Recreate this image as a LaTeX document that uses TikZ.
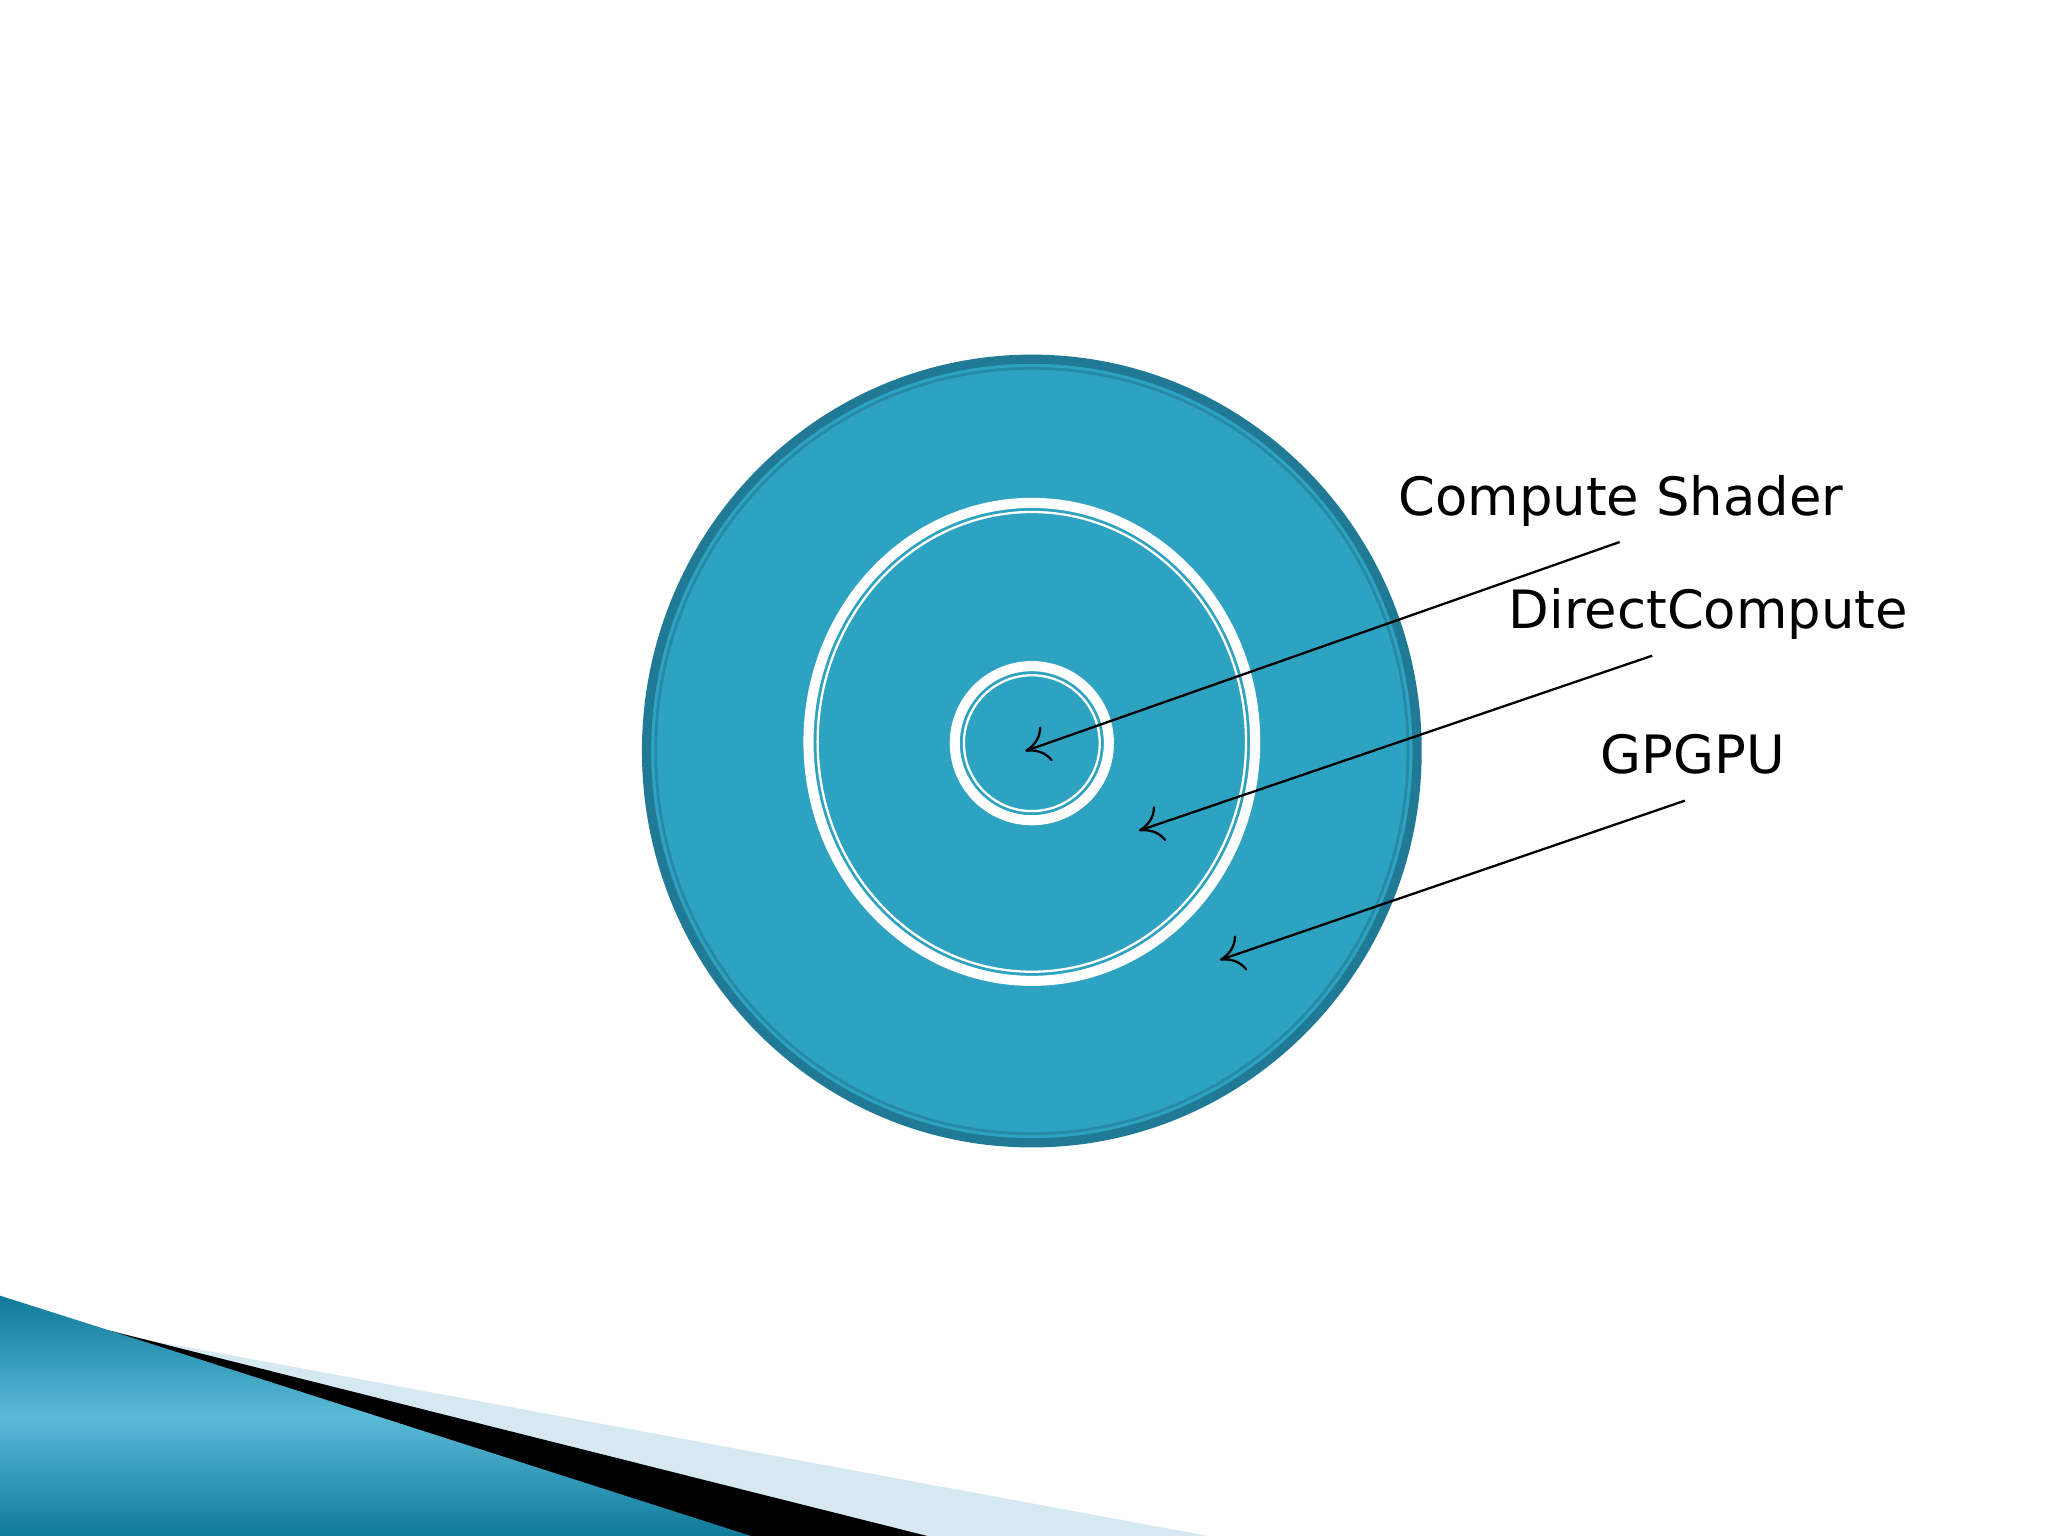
\documentclass[tikz,border=0pt]{standalone}
\usepackage{fontspec}
\setmainfont{DejaVu Sans}
\usetikzlibrary{arrows.meta}
\definecolor{tealfill}{HTML}{2EA3C1}
\definecolor{tealedge}{HTML}{217A95}
\definecolor{lightband}{HTML}{D6E8F2}
\definecolor{tealdark}{HTML}{0E7A9A}
\definecolor{teallight}{HTML}{5BBAD8}
\tikzset{lbl/.style={font=\fontsize{11.5}{14}\selectfont, anchor=base},
  ptr/.style={draw=black, line width=0.5pt, -{To[length=5pt,width=8pt]}},
  ringw/.style={draw=white, line width=2.2pt},
  ringt/.style={draw=white, line width=0.5pt}}
\begin{document}
\begin{tikzpicture}[x=0.01cm,y=-0.01cm]
\useasboundingbox (0,0) rectangle (1568,1176);
\fill[white] (0,0) rectangle (1568,1176);
% bottom decoration
\fill[lightband] (0,1005) -- (925,1176) -- (0,1176) -- cycle;
\fill[black] (0,1000) -- (85,1019) -- (710,1176) -- (0,1176) -- cycle;
\shade[left color=tealdark, right color=tealdark, middle color=teallight, shading angle=0]
  (0,992) -- (85,1019) -- (575,1176) -- (0,1176) -- cycle;
% circles
\coordinate (ctr) at (790,575);
\filldraw[draw=tealedge, line width=2pt, fill=tealfill] (ctr) ellipse [x radius=295, y radius=300];
\draw[tealedge, line width=0.6pt, opacity=0.6] (ctr) ellipse [x radius=288, y radius=293];
\coordinate (mid) at (790,568);
\draw[ringw] (mid) ellipse [x radius=171, y radius=183];
\draw[ringt] (mid) ellipse [x radius=164, y radius=176];
\coordinate (inn) at (790,569);
\draw[ringw] (inn) circle [radius=59];
\draw[ringt] (inn) circle [radius=52];
\coordinate (c1) at (785,575);
\coordinate (c2) at (872,636);
\coordinate (c3) at (934,735);
% labels
\node[lbl] (cs) at (1241,395) {Compute Shader};
\node[lbl] (dc) at (1308,481) {DirectCompute};
\node[lbl] (gp) at (1296,592) {GPGPU};
\coordinate (s1) at (1240,415);
\coordinate (s2) at (1265,502);
\coordinate (s3) at (1290,613);
\draw[ptr] (s1) -- (c1);
\draw[ptr] (s2) -- (c2);
\draw[ptr] (s3) -- (c3);
\end{tikzpicture}
\end{document}
